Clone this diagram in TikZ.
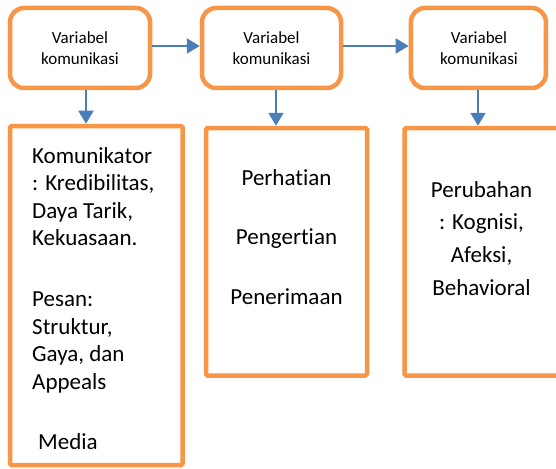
\documentclass[tikz,border=0pt]{standalone}
\usepackage{fontspec}
\setmainfont{Carlito}[Ligatures={NoCommon,NoRare}]
\usetikzlibrary{arrows.meta}
\definecolor{boxorange}{HTML}{F79646}
\definecolor{arrowblue}{HTML}{4A7EBB}
\begin{document}
\begin{tikzpicture}[x=1pt,y=-1pt,
  topbox/.style={draw=boxorange, line width=4.5pt, rounded corners=14pt, minimum height=80pt, inner sep=0pt},
  bigbox/.style={draw=boxorange, line width=4.5pt, rounded corners=1.5pt, inner sep=0pt},
  arr/.style={draw=arrowblue, line width=2pt, -{Triangle[width=15pt,length=13pt]}},
  toptext/.style={inner sep=0pt, anchor=base, font=\fontsize{17}{21}\selectfont},
  bigtext/.style={inner sep=0pt, font=\fontsize{23}{27.5}\selectfont}
]
\useasboundingbox (0,0) rectangle (556,468);
\clip (0,0) rectangle (556,468);
\fill[white] (0,0) rectangle (556,468);

% top boxes
\node[topbox, minimum width=140pt] (t1) at (80,48) {};
\node[topbox, minimum width=139pt] (t2) at (271.5,48) {};
\node[topbox, minimum width=135pt] (t3) at (478.4,48) {};
\node[toptext] (tt1) at (80,44) {\begin{tabular}[t]{@{}c@{}}Variabel\\komunikasi\end{tabular}};
\node[toptext] (tt2) at (271.5,44) {\begin{tabular}[t]{@{}c@{}}Variabel\\komunikasi\end{tabular}};
\node[toptext] (tt3) at (479,44) {\begin{tabular}[t]{@{}c@{}}Variabel\\komunikasi\end{tabular}};

% bottom boxes
\node[bigbox, minimum width=172.5pt, minimum height=339pt] (b1) at (96.25,295.5) {};
\node[bigbox, minimum width=161pt, minimum height=247.5pt] (b2) at (286.5,251.75) {};
\node[bigbox, minimum width=195.5pt, minimum height=247.5pt] (b3) at (502.25,251.75) {};

\node[bigtext, anchor=base west] (bt1) at (32,163) {\begin{tabular}[t]{@{}l@{}}Komunikator\\: Kredibilitas,\\Daya Tarik,\\Kekuasaan.\\[33.5pt]Pesan:\\Struktur,\\Gaya, dan\\Appeals\\[32.5pt]\hspace{6pt}Media\end{tabular}};
\node[bigtext, anchor=base] (bt2) at (286.5,185) {\begin{tabular}[t]{@{}c@{}}Perhatian\\[32pt]Pengertian\\[32pt]Penerimaan\end{tabular}};
\node[inner sep=0pt, font=\fontsize{23}{32.7}\selectfont, anchor=base] (bt3) at (481.5,197) {\begin{tabular}[t]{@{}c@{}}Perubahan\\: Kognisi,\\Afeksi,\\Behavioral\end{tabular}};

% helper coordinates
\coordinate (hy) at (0,46);
\coordinate (v1) at (86,0);
\coordinate (v2) at (276,0);
\coordinate (v3) at (478,0);

% arrows
\draw[arr] (t1.east |- hy) -- (t2.west |- hy);
\draw[arr] (t2.east |- hy) -- (t3.west |- hy);
\draw[arr] (t1.south -| v1) -- (b1.north -| v1);
\draw[arr] (t2.south -| v2) -- (b2.north -| v2);
\draw[arr] (t3.south -| v3) -- (b3.north -| v3);
\end{tikzpicture}
\end{document}
